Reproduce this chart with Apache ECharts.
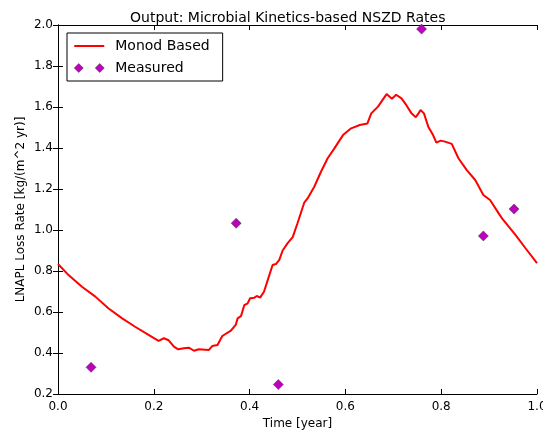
<!DOCTYPE html>
<html>
<head>
<meta charset="utf-8">
<script src="https://cdn.jsdelivr.net/npm/echarts@6/dist/echarts.min.js"></script>
<style>
html,body{margin:0;padding:0;background:#fff;}
#chart{width:543px;height:436px;}
</style>
</head>
<body>
<div id="chart"></div>
<script>
// ---- data ----
var monodTime = [0.000,0.022,0.050,0.078,0.105,0.134,0.161,0.189,0.210,0.221,0.231,0.242,0.251,0.263,0.273,0.284,0.294,0.315,0.322,0.333,0.343,0.361,0.371,0.375,0.382,0.389,0.396,0.401,0.410,0.415,0.422,0.430,0.439,0.448,0.455,0.462,0.469,0.479,0.490,0.500,0.514,0.521,0.535,0.549,0.563,0.577,0.595,0.612,0.630,0.646,0.654,0.668,0.686,0.697,0.706,0.717,0.727,0.738,0.747,0.757,0.764,0.773,0.783,0.790,0.799,0.808,0.822,0.836,0.853,0.871,0.888,0.902,0.920,0.927,0.955,0.976,1.000];
var monodRate = [0.834,0.780,0.723,0.675,0.618,0.569,0.528,0.488,0.459,0.472,0.462,0.431,0.418,0.423,0.426,0.411,0.418,0.415,0.434,0.439,0.483,0.509,0.537,0.569,0.580,0.634,0.642,0.667,0.670,0.678,0.670,0.699,0.764,0.829,0.834,0.854,0.900,0.935,0.965,1.033,1.133,1.154,1.211,1.284,1.350,1.398,1.463,1.496,1.512,1.520,1.569,1.602,1.663,1.640,1.660,1.642,1.610,1.569,1.550,1.585,1.569,1.504,1.463,1.426,1.436,1.431,1.420,1.350,1.293,1.244,1.171,1.146,1.081,1.057,0.976,0.911,0.838];
var measuredTime = [0.069,0.372,0.460,0.759,0.888,0.952];
var measuredRate = [0.330,1.033,0.246,1.980,0.971,1.102];
var xTickLabels = ['0.0','0.2','0.4','0.6','0.8','1.0'];
var yTickLabels = ['0.2','0.4','0.6','0.8','1.0','1.2','1.4','1.6','1.8','2.0'];

var titleText = 'Output: Microbial Kinetics-based NSZD Rates';
var xName = 'Time [year]';
var yName = 'LNAPL Loss Rate [kg/(m^2 yr)]';
var seriesNames = ['Monod Based','Measured'];

var monodData = monodTime.map(function(t,i){return [t, monodRate[i]];});
var measData = measuredTime.map(function(t,i){return [t, measuredRate[i]];});

var FONT = 'DejaVu Sans';
function fmtX(v){ var s=v.toFixed(1); return xTickLabels.indexOf(s)>=0 ? s : ''; }
function fmtY(v){ var s=v.toFixed(1); return yTickLabels.indexOf(s)>=0 ? s : ''; }

var chart = echarts.init(document.getElementById('chart'), null, {renderer:'canvas'});
var axisLineStyle = {show:true, lineStyle:{color:'#000', width:1}};
var tickStyle = {show:true, inside:true, length:5, lineStyle:{color:'#000', width:1}};
chart.setOption({
  backgroundColor:'#fff',
  animation:false,
  title:{
    text:titleText, left:125, top:6,
    textStyle:{fontFamily:FONT, fontSize:14, fontWeight:'normal', color:'#000'}
  },
  grid:{left:58, right:6, top:25, bottom:42, containLabel:false, outerBoundsMode:'none'},
  legend:{
    orient:'vertical', left:67, top:33,
    padding:[6,13,6,7],
    itemGap:8, itemWidth:30, itemHeight:9,
    borderColor:'#000', borderWidth:1, backgroundColor:'#fff',
    textStyle:{fontFamily:FONT, fontSize:14, color:'#000', padding:[0,0,0,6]},
    data:[
      {name:seriesNames[0], icon:'path://M0,0L30,0L30,2L0,2Z'},
      {name:seriesNames[1], icon:'path://M0,4.5L4.5,0L9,4.5L4.5,9Z M21,4.5L25.5,0L30,4.5L25.5,9Z',
       itemStyle:{borderWidth:0.5, borderColor:'#333'}}
    ]
  },
  xAxis:[
    {type:'value', min:0, max:1, interval:0.2, position:'bottom',
     name:xName, nameLocation:'middle', nameGap:24, nameMoveOverlap:false,
     nameTextStyle:{fontFamily:FONT, fontSize:12, color:'#000'},
     axisLine:axisLineStyle, axisTick:tickStyle, splitLine:{show:false},
     axisLabel:{fontFamily:FONT, fontSize:12, color:'#000', margin:7, formatter:fmtX}},
    {type:'value', min:0, max:1, interval:0.2, position:'top',
     axisLine:axisLineStyle, axisTick:tickStyle, splitLine:{show:false},
     axisLabel:{show:false}}
  ],
  yAxis:[
    {type:'value', min:0.2, max:2.0, interval:0.2, position:'left',
     name:yName, nameLocation:'middle', nameGap:31, nameRotate:90, nameMoveOverlap:false,
     nameTextStyle:{fontFamily:FONT, fontSize:12, color:'#000'},
     axisLine:axisLineStyle, axisTick:tickStyle, splitLine:{show:false},
     axisLabel:{fontFamily:FONT, fontSize:12, color:'#000', margin:5, formatter:fmtY}},
    {type:'value', min:0.2, max:2.0, interval:0.2, position:'right',
     axisLine:axisLineStyle, axisTick:tickStyle, splitLine:{show:false},
     axisLabel:{show:false}}
  ],
  series:[
    {name:seriesNames[0], type:'line', data:monodData, symbol:'none', smooth:false,
     xAxisIndex:0, yAxisIndex:0,
     lineStyle:{color:'#ff0000', width:2}, itemStyle:{color:'#ff0000'}, z:2},
    {name:seriesNames[1], type:'scatter', data:measData, symbol:'diamond', symbolSize:10,
     xAxisIndex:0, yAxisIndex:0,
     itemStyle:{color:'#bf00bf', borderColor:'#333', borderWidth:0.5, opacity:1}, z:3}
  ]
});
</script>
</body>
</html>
